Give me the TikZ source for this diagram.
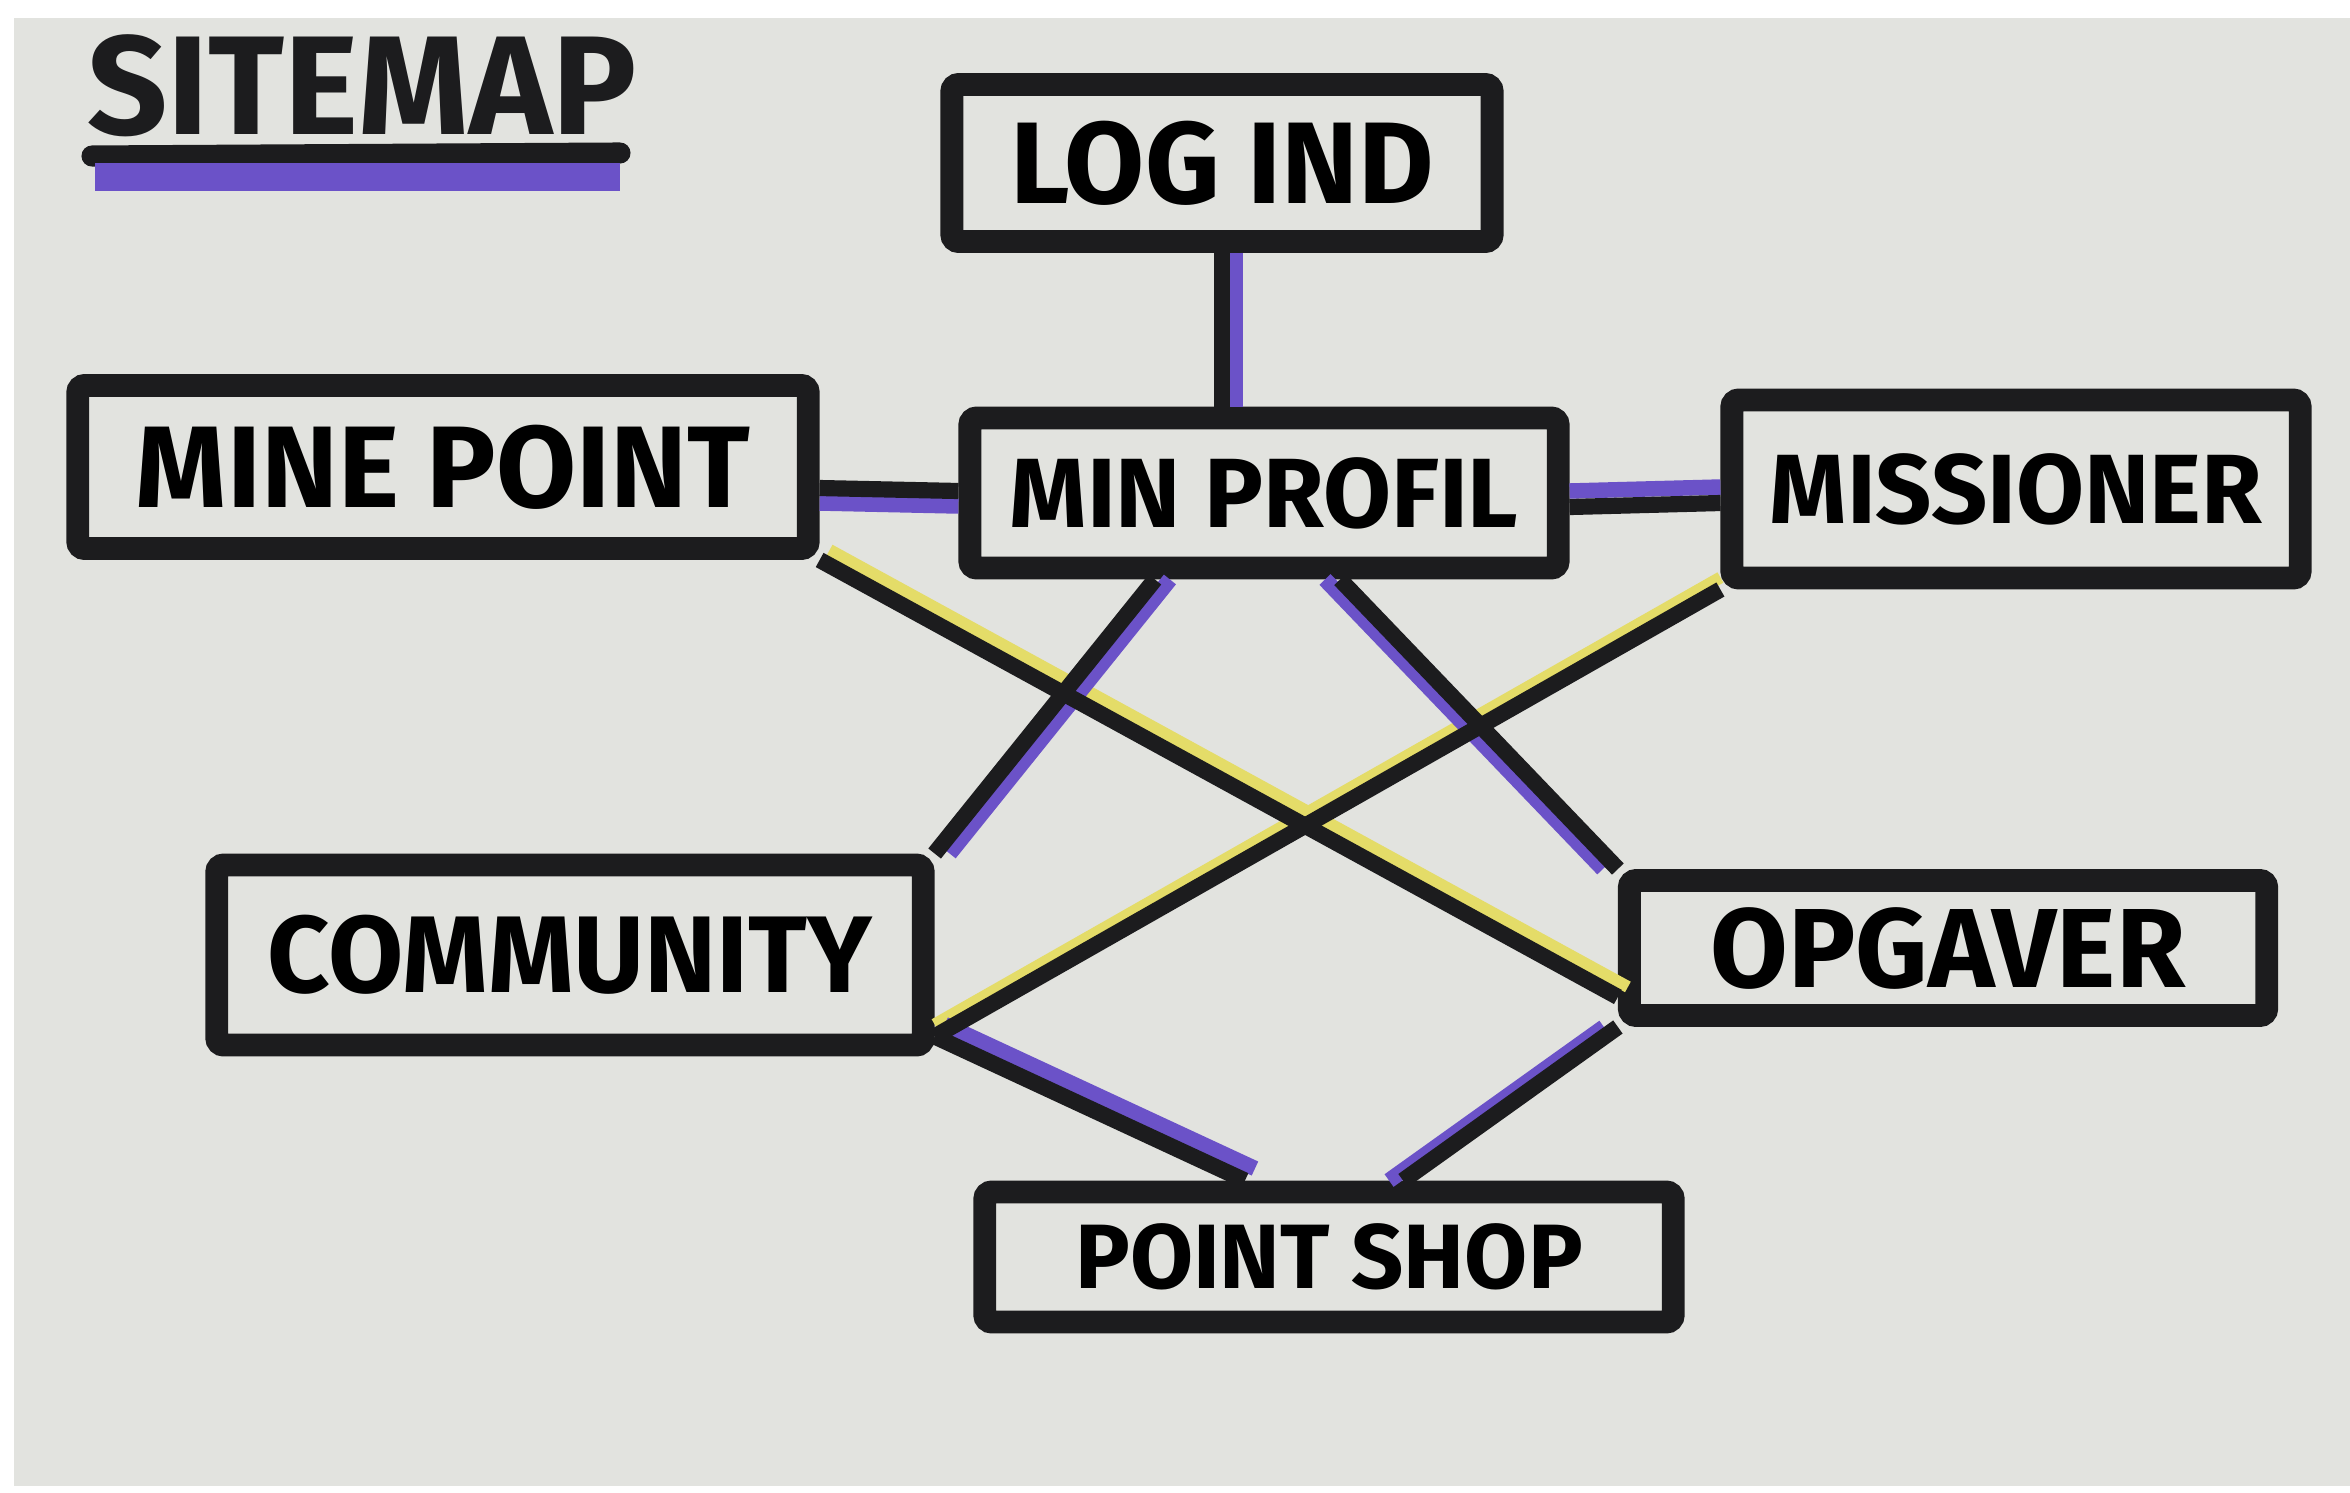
\documentclass[tikz,border=0pt]{standalone}
\usepackage{fontspec}
\setmainfont{Fira Sans}
\usetikzlibrary{positioning}

\definecolor{paper}{HTML}{E2E3DF}
\definecolor{ink}{HTML}{1C1C1E}
\definecolor{violet}{HTML}{6B52C8}
\definecolor{lemon}{HTML}{E4DC68}

\newcommand{\hand}[1]{\bfseries\fontsize{#1}{#1}\selectfont}

\tikzset{pagebox/.style={draw=ink, line width=6.5pt, rounded corners=2pt,
        font=\hand{28}, inner sep=0pt},
    link/.style={draw=ink, line width=4.6pt},
    purplemark/.style={draw=violet, line width=4.4pt},
    yellowmark/.style={draw=lemon, line width=3.4pt},
    }

\begin{document}
\begin{tikzpicture}[x=0.01cm,y=-0.01cm]
	\useasboundingbox (0,0) rectangle (2350,1493);
	\fill[white] (0,0) rectangle (2350,1493);
	\fill[paper] (14,18) rectangle (2350,1486);

	% title
	\node[font=\hand{40}, text=ink] (title) at (362,86) {SITEMAP};
	\draw[ink, line width=6pt, line cap=round] (92,156) -- (620,153);
	\draw[violet, line width=8pt] (95,177) -- (620,177);

	% pages
	\node[pagebox, font=\hand{33}, minimum width=5.4cm, minimum height=1.57cm] (login) at (1222,163) {LOG IND};
	\node[pagebox, font=\hand{33}, minimum width=7.3cm, minimum height=1.63cm] (minepoint) at (443,467) {MINE POINT};
	\node[pagebox, minimum width=5.88cm, minimum height=1.5cm] (profil) at (1264,493) {MIN PROFIL};
	\node[pagebox, minimum width=5.68cm, minimum height=1.78cm] (missioner) at (2016,489) {MISSIONER};
	\node[pagebox, font=\hand{31}, minimum width=7.06cm, minimum height=1.8cm] (community) at (570,955) {COMMUNITY};
	\node[pagebox, font=\hand{32}, minimum width=6.37cm, minimum height=1.35cm] (opgaver) at (1948,948) {OPGAVER};
	\node[pagebox, font=\hand{26}, minimum width=6.88cm, minimum height=1.3cm] (pointshop) at (1329,1257) {POINT SHOP};

	% yellow links
	\draw[yellowmark, transform canvas={shift={(1mm,1mm)}}] (minepoint.south east) -- ([yshift=3mm]opgaver.south west);
	\draw[yellowmark, transform canvas={yshift=1.2mm}] (missioner.south west) -- ([yshift=2mm]community.south east);

	% purple links
	\draw[purplemark, transform canvas={xshift=1.3mm}] (login.south) -- (login.south |- profil.north);
	\draw[purplemark] ([yshift=-3.6mm]minepoint.east) -- ([yshift=-1.3mm]profil.west);
	\draw[purplemark] ([yshift=0.2mm]profil.east) -- ([yshift=0.2mm]missioner.west);
	\draw[purplemark, transform canvas={xshift=1.5mm}] ([xshift=-1.09cm]profil.south) -- (community.north east);
	\draw[purplemark, transform canvas={xshift=-1.5mm}] ([xshift=0.76cm]profil.south) -- (opgaver.north west);
	\draw[purplemark, transform canvas={shift={(1mm,1.2mm)}}] ([yshift=2mm]community.south east) -- ([xshift=-0.84cm]pointshop.north);
	\draw[purplemark, transform canvas={xshift=-1.4mm}] (opgaver.south west) -- ([xshift=0.74cm]pointshop.north);

	% black links
	\draw[link] (login.south) -- (login.south |- profil.north);
	\draw[link] ([yshift=-2.1mm]minepoint.east) -- ([yshift=0.2mm]profil.west);
	\draw[link] ([yshift=-1.4mm]profil.east) -- ([yshift=-1.4mm]missioner.west);
	\draw[link] ([xshift=-1.09cm]profil.south) -- (community.north east);
	\draw[link] ([xshift=0.76cm]profil.south) -- (opgaver.north west);
	\draw[link] (minepoint.south east) -- ([yshift=3mm]opgaver.south west);
	\draw[link] (missioner.south west) -- ([yshift=2mm]community.south east);
	\draw[link] ([yshift=2mm]community.south east) -- ([xshift=-0.84cm]pointshop.north);
	\draw[link] (opgaver.south west) -- ([xshift=0.74cm]pointshop.north);
\end{tikzpicture}
\end{document}
